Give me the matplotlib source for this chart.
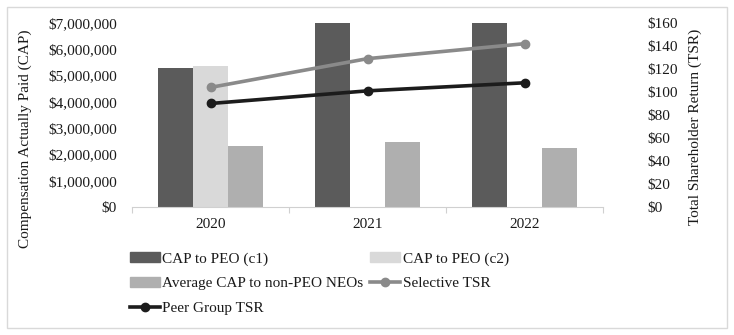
import matplotlib.pyplot as plt
import numpy as np
from matplotlib.ticker import FuncFormatter, FixedLocator
from matplotlib.lines import Line2D
from matplotlib.patches import Patch, Rectangle

plt.rcParams['font.family'] = ['Liberation Serif', 'DejaVu Serif']

years = ['2020', '2021', '2022']
cap_peo_c1 = [5300000, 7000000, 7000000]
cap_peo_c2 = [5350000, 0, 0]
avg_cap_neo = [2330000, 2470000, 2260000]
selective_tsr = [104, 129, 142]
peer_tsr = [90, 101, 108]

c_c1 = '#5b5b5b'
c_c2 = '#d9d9d9'
c_avg = '#afafaf'
c_sel = '#8a8a8a'
c_peer = '#1c1c1c'
txt = '#1a1a1a'
fs = 11

fig = plt.figure(figsize=(7.34, 3.35), dpi=100)
ax = fig.add_axes([132/734, 1-207/335, 471/734, 184/335])
ax2 = ax.twinx()

x = np.arange(len(years))
w = 0.223
ax.bar(x - w, cap_peo_c1, w, color=c_c1, zorder=2)
ax.bar(x, cap_peo_c2, w, color=c_c2, zorder=2)
ax.bar(x + w, avg_cap_neo, w, color=c_avg, zorder=2)

ax2.plot(x, selective_tsr, color=c_sel, lw=2.6, marker='o', ms=6, zorder=3)
ax2.plot(x, peer_tsr, color=c_peer, lw=2.6, marker='o', ms=6, zorder=3)

ax.set_xlim(-0.5, 2.5)
ax.set_ylim(0, 7000000)
ax2.set_ylim(0, 160)
ax.set_yticks(np.arange(0, 7000001, 1000000))
ax2.set_yticks(np.arange(0, 161, 20))
ax.yaxis.set_major_formatter(FuncFormatter(lambda v, p: '${:,.0f}'.format(v)))
ax2.yaxis.set_major_formatter(FuncFormatter(lambda v, p: '${:,.0f}'.format(v)))

ax.set_xticks(x)
ax.set_xticklabels(years)
ax.xaxis.set_minor_locator(FixedLocator([-0.5, 0.5, 1.5, 2.5]))
ax.tick_params(axis='x', which='major', length=0, pad=8, labelsize=fs, labelcolor=txt)
ax.tick_params(axis='x', which='minor', length=4, color='#d0d0d0', width=0.8)
ax.tick_params(axis='y', length=0, pad=11, labelsize=fs, labelcolor=txt)
ax2.tick_params(axis='y', length=0, pad=32, labelsize=fs, labelcolor=txt)

for a in (ax, ax2):
    for s in ['top', 'left', 'right']:
        a.spines[s].set_visible(False)
ax2.spines['bottom'].set_visible(False)
ax.spines['bottom'].set_color('#d0d0d0')
ax.spines['bottom'].set_linewidth(0.8)

fig.text(25/734, 1-139/335, 'Compensation Actually Paid (CAP)', rotation=90,
         ha='center', va='center', fontsize=11, color=txt)
fig.text(695/734, 1-127/335, 'Total Shareholder Return (TSR)', rotation=90,
         ha='center', va='center', fontsize=11, color=txt)

handles = [Patch(color=c_c1), Patch(color=c_avg),
           Line2D([], [], color=c_peer, lw=2.6, marker='o', ms=6),
           Patch(color=c_c2),
           Line2D([], [], color=c_sel, lw=2.6, marker='o', ms=6)]
labels = ['CAP to PEO (c1)', 'Average CAP to non-PEO NEOs', 'Peer Group TSR',
          'CAP to PEO (c2)', 'Selective TSR']
fig.legend(handles, labels, ncol=2, loc='upper left',
           bbox_to_anchor=(122/734, 1-244/335), frameon=False, fontsize=11,
           handlelength=2.0, handleheight=0.7, handletextpad=0.15,
           columnspacing=0.4, labelspacing=0.72, labelcolor=txt, borderpad=0)

fig.add_artist(Rectangle((7/734, 7/335), 720/734, 321/335, transform=fig.transFigure,
                         fill=False, edgecolor='#d9d9d9', lw=1))

fig.savefig('out.png', dpi=100)
